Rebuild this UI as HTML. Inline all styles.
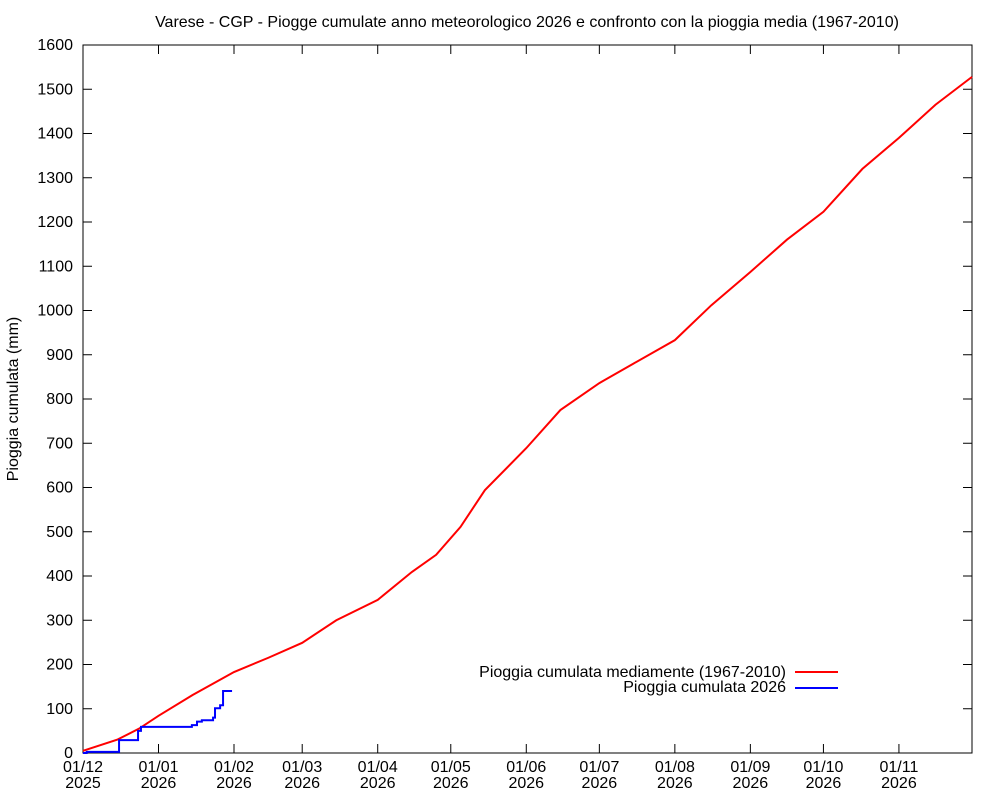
<!DOCTYPE html>
<html><head><meta charset="utf-8"><style>
body{margin:0;background:#fff}
svg text{font-family:"Liberation Sans",sans-serif;fill:#000}
</style></head><body>
<svg id="c" width="1000" height="800" xmlns="http://www.w3.org/2000/svg">
<text x="527" y="27" font-size="16" text-anchor="middle">Varese - CGP - Piogge cumulate anno meteorologico 2026 e confronto con la pioggia media (1967-2010)</text>
<text transform="translate(18,399) rotate(-90)" font-size="16" text-anchor="middle">Pioggia cumulata (mm)</text>
<rect x="83" y="45" width="889" height="708" fill="none" stroke="#000" stroke-width="1"/>
<g id="ax"></g>
<g id="series"></g>
<g>
<text x="786" y="677" font-size="16" text-anchor="end">Pioggia cumulata mediamente (1967-2010)</text>
<line x1="795" y1="672" x2="838" y2="672" stroke="#f00" stroke-width="2"/>
<text x="786" y="692" font-size="16" text-anchor="end">Pioggia cumulata 2026</text>
<line x1="795" y1="688" x2="838" y2="688" stroke="#00f" stroke-width="2"/>
</g>
</svg>
<script>
const yTicks=[0,100,200,300,400,500,600,700,800,900,1000,1100,1200,1300,1400,1500,1600];
const xTickDays=[0,31,62,90,121,151,182,212,243,274,304,335];
const xTickLabels=["01/12","01/01","01/02","01/03","01/04","01/05","01/06","01/07","01/08","01/09","01/10","01/11"];
const xTickYears=["2025","2026","2026","2026","2026","2026","2026","2026","2026","2026","2026","2026"];
const meanDays=[0,14,23,31,45,62,76,90,104,121,135,145,155,165,182,196,212,226,243,258,274,289,304,320,335,350,365];
const meanVals=[5,30,55,84,131,183,215,249,300,346,409,448,511,594,689,775,836,880,933,1012,1087,1160,1223,1320,1390,1465,1528];
const obsDays=[0,1.5,14.8,22.6,23.8,44.7,46.8,48.8,53.4,54.2,56.3,57.5,61.2];
const obsVals=[0,2.5,29,50,59,63,71,74,80,101,108,140,140];
const X0=83,X1=972,Y0=753,Y1=45;
const xs=d=>X0+d*(X1-X0)/365;
const ys=v=>Y0-v*(Y0-Y1)/1600;
const NS="http://www.w3.org/2000/svg";
const ax=document.getElementById('ax'),sg=document.getElementById('series');
function mk(tag,at,par){const e=document.createElementNS(NS,tag);for(const k in at)e.setAttribute(k,at[k]);par.appendChild(e);return e;}
yTicks.forEach(v=>{
 const y=ys(v);
 let l=mk('line',{x1:X0,x2:X0+9,y1:y,y2:y,stroke:'#000'},ax);
 
 
 let r=mk('line',{x1:X1-9,x2:X1,y1:y,y2:y,stroke:'#000'},ax);
 
 
 let t=mk('text',{x:73,y:y+5,'font-size':16,'text-anchor':'end'},ax);t.textContent=v;
 
 
});
xTickDays.forEach((d,i)=>{
 const x=xs(d);
 let l=mk('line',{x1:x,x2:x,y1:Y0,y2:Y0-9,stroke:'#000'},ax);
 
 
 let u=mk('line',{x1:x,x2:x,y1:Y1,y2:Y1+9,stroke:'#000'},ax);
 
 
 let t=mk('text',{x:x,y:772,'font-size':16,'text-anchor':'middle'},ax);t.textContent=xTickLabels[i];
 
 
 let t2=mk('text',{x:x,y:788,'font-size':16,'text-anchor':'middle'},ax);t2.textContent=xTickYears[i];
 
 
});
let pm=meanDays.map((d,i)=>xs(d)+','+ys(meanVals[i])).join(' ');
let m=mk('polyline',{points:pm,fill:'none',stroke:'#f00','stroke-width':2},sg);


let po=[];obsDays.forEach((d,i)=>{if(i>0)po.push(xs(d)+','+ys(obsVals[i-1]));po.push(xs(d)+','+ys(obsVals[i]));});
let o=mk('polyline',{points:po.join(' '),fill:'none',stroke:'#00f','stroke-width':2},sg);


</script>
</body></html>
